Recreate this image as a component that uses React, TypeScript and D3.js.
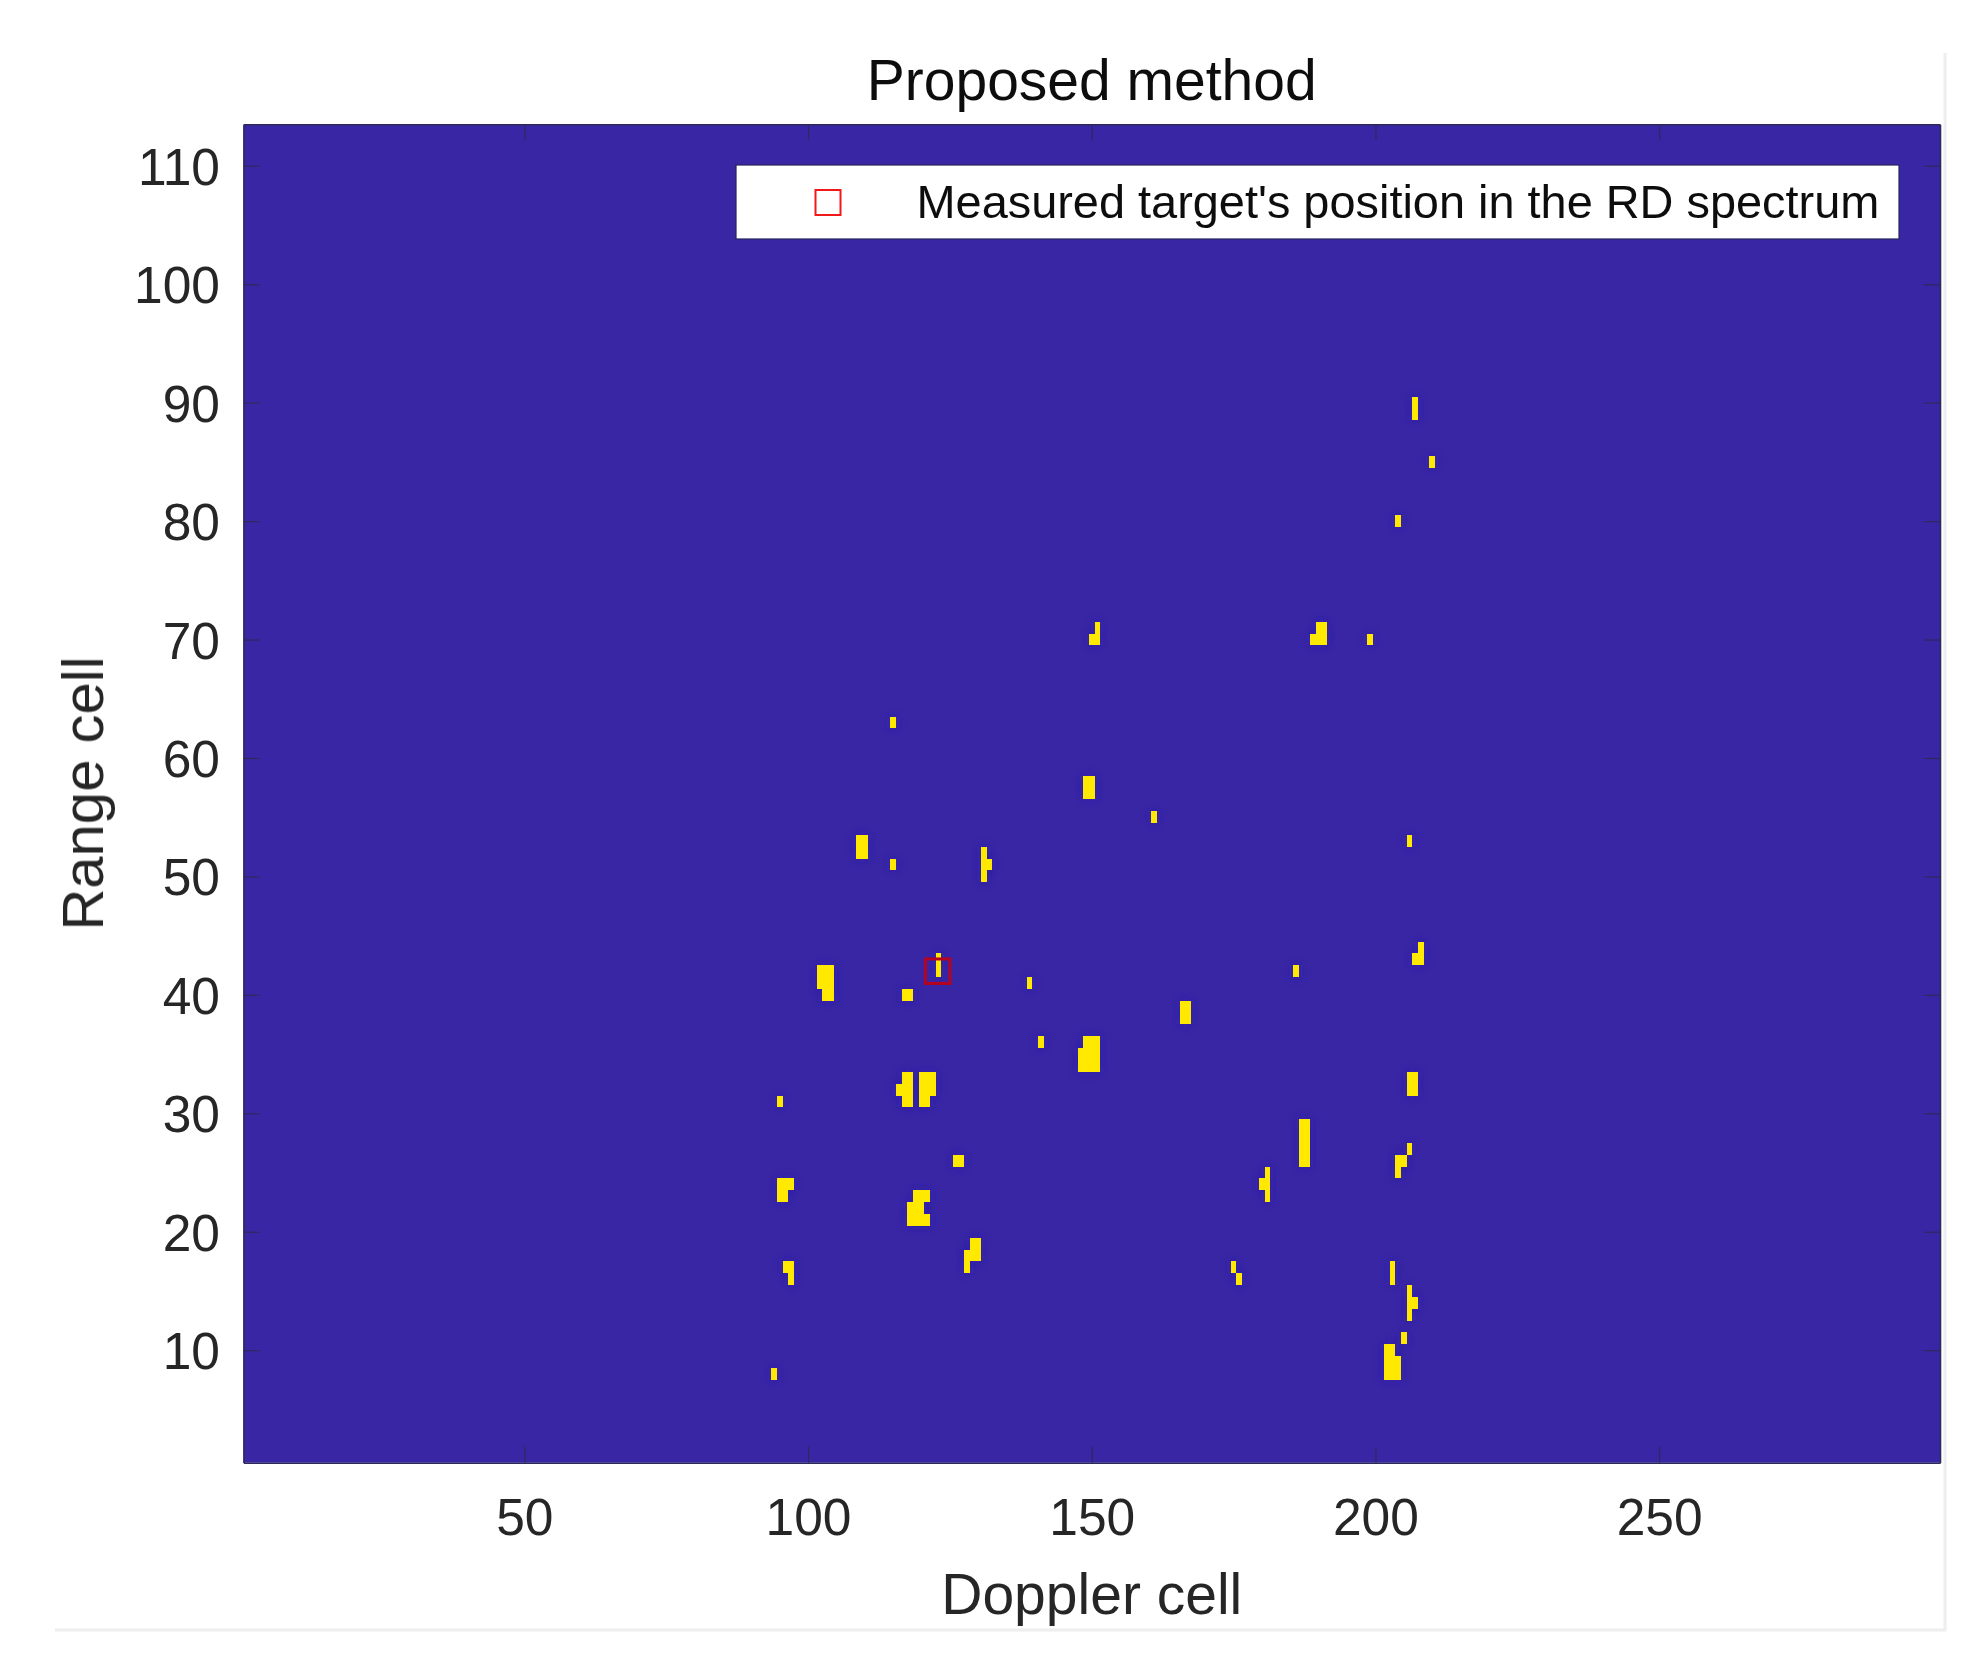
import { useEffect, useRef } from 'react';
import * as d3 from 'd3';

const WIDTH = 1968;
const HEIGHT = 1659;
const FONT = '"Liberation Sans", Arial, sans-serif';

const TITLE = 'Proposed method';
const X_LABEL = 'Doppler cell';
const Y_LABEL = 'Range cell';
const LEGEND_LABEL = "Measured target's position in the RD spectrum";

const dopplerDomain = [0.5, 299.5];
const rangeDomain = [0.5, 113.5];
const dopplerTicks = [50, 100, 150, 200, 250];
const rangeTicks = [10, 20, 30, 40, 50, 60, 70, 80, 90, 100, 110];

const measuredTarget = [123, 42];

// detected cells as vertical runs: doppler cell, first range cell, last range cell
const detections: [number, number, number][] = [
    [94, 8, 8], [95, 31, 31], [95, 23, 24], [96, 23, 24], [97, 24, 24],
    [96, 17, 17], [97, 16, 17],
    [102, 41, 42], [103, 40, 42], [104, 40, 42],
    [109, 52, 53], [110, 52, 53], [115, 63, 63], [115, 51, 51],
    [116, 32, 32], [117, 31, 33], [118, 31, 33], [120, 31, 33], [121, 31, 33], [122, 32, 33],
    [117, 40, 40], [118, 40, 40], [123, 42, 43],
    [118, 21, 22], [119, 21, 23], [120, 21, 23], [121, 21, 21], [121, 23, 23],
    [126, 26, 26], [127, 26, 26],
    [128, 17, 18], [129, 18, 19], [130, 18, 19],
    [131, 50, 52], [132, 51, 51], [139, 41, 41], [141, 36, 36],
    [148, 34, 35], [149, 34, 36], [150, 34, 36], [151, 34, 36],
    [149, 57, 58], [150, 57, 58], [161, 55, 55],
    [150, 70, 70], [151, 70, 71],
    [166, 38, 39], [167, 38, 39],
    [175, 17, 17], [176, 16, 16], [180, 24, 24], [181, 23, 25],
    [186, 42, 42], [187, 26, 29], [188, 26, 29],
    [189, 70, 70], [190, 70, 71], [191, 70, 71], [199, 70, 70],
    [202, 8, 10], [203, 8, 10], [204, 8, 9], [205, 11, 11],
    [203, 16, 17], [206, 13, 15], [207, 14, 14],
    [204, 25, 26], [205, 26, 26], [206, 27, 27],
    [206, 32, 33], [207, 32, 33], [207, 43, 43], [208, 43, 44],
    [206, 53, 53], [204, 80, 80], [210, 85, 85], [207, 89, 90],
];

export default function App() {
    const svgRef = useRef<SVGSVGElement>(null);

    useEffect(() => {
        if (!svgRef.current) return;
        const svg = d3.select(svgRef.current);
        svg.selectAll('*').remove();

        const left = 243.5, right = 1940, top = 124.3, bottom = 1462.7;
        const x = d3.scaleLinear().domain(dopplerDomain).range([left, right]);
        const y = d3.scaleLinear().domain(rangeDomain).range([bottom, top]);

        const defs = svg.append('defs');
        defs.append('filter').attr('id', 'soft').append('feGaussianBlur').attr('stdDeviation', 0.7);
        defs.append('filter').attr('id', 'soft-text').append('feGaussianBlur').attr('stdDeviation', 0.45);
        defs.append('filter').attr('id', 'halo')
            .attr('x', '-100%').attr('y', '-100%').attr('width', '300%').attr('height', '300%')
            .append('feGaussianBlur').attr('stdDeviation', 5);

        // scan edges of the page the figure was cut from
        svg.append('path')
            .attr('d', `M55,1630H1945V53`)
            .attr('fill', 'none').attr('stroke', '#eeeeee').attr('stroke-width', 3);

        svg.append('rect')
            .attr('x', left).attr('y', top)
            .attr('width', right - left).attr('height', bottom - top)
            .attr('fill', '#3926a5');

        const addCells = (g: d3.Selection<SVGGElement, unknown, null, undefined>, fill: string) => {
            g.selectAll('rect')
                .data(detections)
                .join('rect')
                .attr('x', d => x(d[0] - 0.5))
                .attr('y', d => y(d[2] + 0.5))
                .attr('width', d => x(d[0] + 0.5) - x(d[0] - 0.5))
                .attr('height', d => y(d[1] - 0.5) - y(d[2] + 0.5))
                .attr('fill', fill)
                .attr('shape-rendering', 'crispEdges');
        };
        addCells(svg.append('g').attr('filter', 'url(#halo)').attr('opacity', 0.55), '#1f12b0');
        addCells(svg.append('g').attr('filter', 'url(#soft)'), '#ffe900');

        const styleAxis = (g: d3.Selection<SVGGElement, unknown, null, undefined>) => {
            g.select('.domain').attr('stroke', '#2c2a5c').attr('stroke-width', 1.6);
            g.selectAll('.tick line').attr('stroke', '#2c2a5c').attr('stroke-width', 1.2);
            g.selectAll('.tick text').attr('fill', '#262626')
                .attr('font-family', FONT).attr('font-size', 51.5)
                .attr('filter', 'url(#soft-text)');
        };

        svg.append('g').attr('transform', `translate(0,${bottom})`)
            .call(d3.axisBottom(x).tickValues(dopplerTicks).tickFormat(d3.format('d')).tickSizeInner(-16).tickSizeOuter(0).tickPadding(35.7))
            .call(styleAxis);
        svg.append('g').attr('transform', `translate(0,${top})`)
            .call(d3.axisTop(x).tickValues(dopplerTicks).tickFormat(() => '').tickSizeInner(-16).tickSizeOuter(0))
            .call(styleAxis);
        svg.append('g').attr('transform', `translate(${left},0)`)
            .call(d3.axisLeft(y).tickValues(rangeTicks).tickFormat(d3.format('d')).tickSizeInner(-16).tickSizeOuter(0).tickPadding(23.5))
            .call(styleAxis)
            .selectAll('.tick text').attr('dy', '0.36em');
        svg.append('g').attr('transform', `translate(${right},0)`)
            .call(d3.axisRight(y).tickValues(rangeTicks).tickFormat(() => '').tickSizeInner(-16).tickSizeOuter(0))
            .call(styleAxis);

        // measured target marker
        svg.append('rect')
            .attr('x', x(measuredTarget[0]) - 13.2).attr('y', y(measuredTarget[1]) - 12.2)
            .attr('width', 24.5).attr('height', 24.5)
            .attr('fill', 'none').attr('stroke', '#b5041f').attr('stroke-width', 3);

        // legend
        svg.append('rect')
            .attr('x', 736).attr('y', 165).attr('width', 1163).attr('height', 74)
            .attr('fill', '#ffffff').attr('stroke', '#26235a').attr('stroke-width', 1.2);
        svg.append('rect')
            .attr('x', 815.5).attr('y', 190).attr('width', 25).attr('height', 25)
            .attr('fill', 'none').attr('stroke', '#f01818').attr('stroke-width', 2);
        svg.append('text')
            .attr('x', 916.5).attr('y', 218)
            .attr('font-family', FONT).attr('font-size', 46.9).attr('fill', '#111111')
            .attr('filter', 'url(#soft-text)')
            .text(LEGEND_LABEL);

        svg.append('text')
            .attr('x', (left + right) / 2).attr('y', 100).attr('text-anchor', 'middle')
            .attr('font-family', FONT).attr('font-size', 57).attr('fill', '#111111')
            .attr('filter', 'url(#soft-text)')
            .text(TITLE);
        svg.append('text')
            .attr('x', (left + right) / 2).attr('y', 1614).attr('text-anchor', 'middle')
            .attr('font-family', FONT).attr('font-size', 57).attr('fill', '#262626')
            .attr('filter', 'url(#soft-text)')
            .text(X_LABEL);
        svg.append('text')
            .attr('transform', `translate(103,${(top + bottom) / 2}) rotate(-90)`)
            .attr('text-anchor', 'middle')
            .attr('font-family', FONT).attr('font-size', 58).attr('fill', '#262626')
            .attr('filter', 'url(#soft-text)')
            .text(Y_LABEL);
    }, []);

    return (
        <svg ref={svgRef} width={WIDTH} height={HEIGHT}
            style={{ position: 'absolute', left: 0, top: 0, background: '#ffffff' }} />
    );
}
